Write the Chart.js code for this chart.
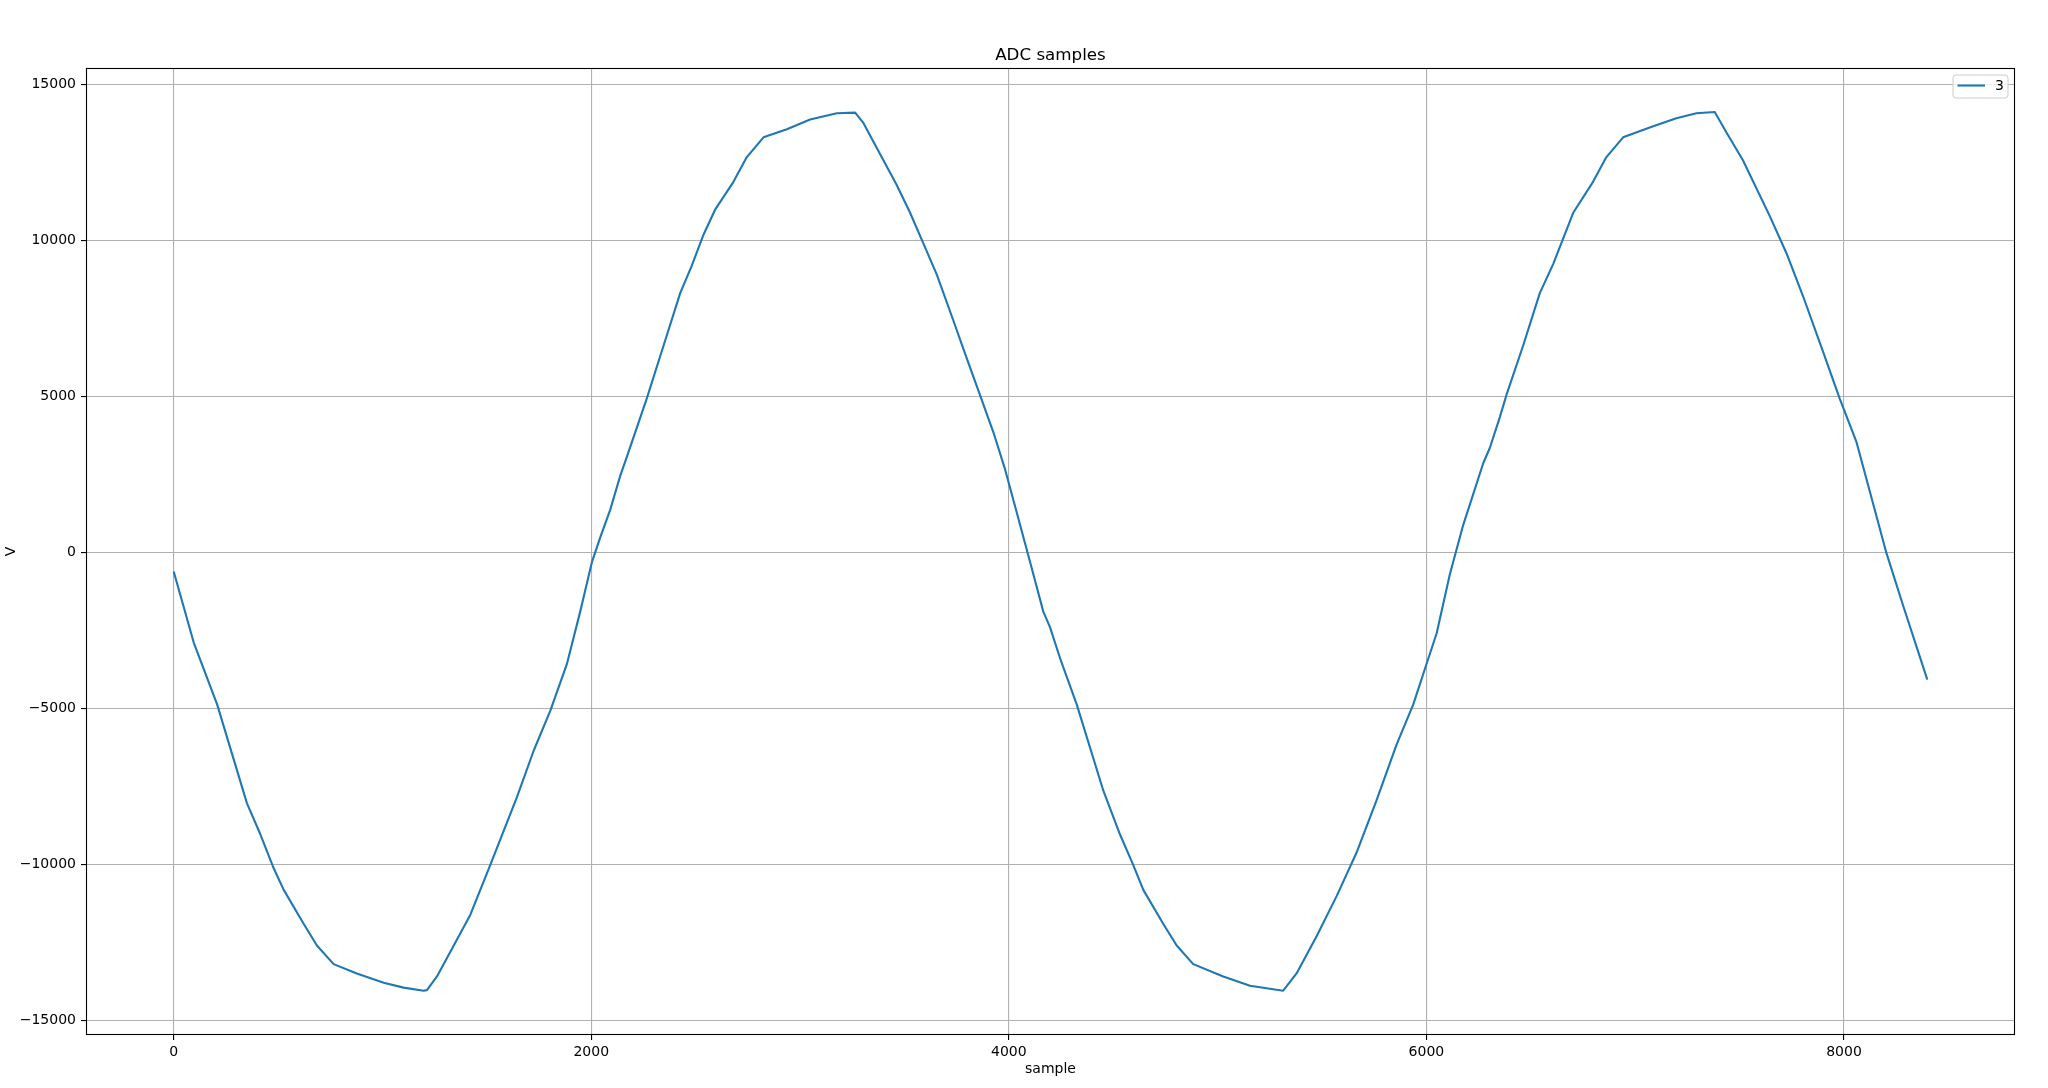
<!DOCTYPE html>
<html><head><meta charset="utf-8">
<script src="https://cdn.jsdelivr.net/npm/chart.js@4.4.1/dist/chart.umd.min.js"></script>
<style>html,body{margin:0;padding:0;background:#fff;}canvas{display:block;}</style>
</head><body>
<canvas id="c" width="2048" height="1088"></canvas>
<script>
const chartTitle = 'ADC samples';
const seriesLabel = '3';
const xAxisLabel = 'sample';
const yAxisLabel = 'V';

const sampleIndex = [0,96,208,351,415,479,527,623,686,766,877,1006,1101,1197,1213,1261,1309,1421,1516,1644,1724,1804,1883,1947,2003,2043,2091,2139,2170,2266,2346,2426,2482,2538,2593,2681,2745,2825,2937,3048,3176,3264,3304,3367,3463,3527,3591,3655,3735,3798,3862,3926,3982,4022,4102,4165,4197,4245,4325,4453,4532,4596,4644,4740,4804,4883,5027,5155,5314,5378,5474,5570,5665,5761,5857,5937,6000,6049,6112,6176,6272,6304,6352,6383,6463,6543,6607,6703,6798,6862,6942,7086,7197,7293,7381,7437,7516,7644,7724,7804,7900,7979,8059,8123,8203,8283,8399];
const sampleValue = [-614,-2893,-4875,-8046,-9037,-10127,-10820,-11910,-12604,-13199,-13496,-13793,-13952,-14051,-14031,-13595,-13000,-11613,-10028,-7848,-6361,-5073,-3587,-1902,-317,476,1367,2457,3052,4935,6619,8304,9195,10186,10979,11871,12664,13298,13555,13872,14071,14090,13753,12961,11772,10880,9889,8898,7412,6223,5034,3845,2656,1665,-317,-1902,-2399,-3389,-4875,-7650,-9037,-10028,-10820,-11910,-12604,-13199,-13595,-13892,-14051,-13496,-12307,-11019,-9631,-7947,-6163,-4875,-3587,-2596,-713,872,2854,3349,4340,5034,6619,8304,9235,10880,11871,12664,13298,13654,13912,14071,14110,13456,12565,10781,9592,8205,6421,4935,3547,1962,-20,-1704,-4082];

const xTicks = [0,2000,4000,6000,8000];
const yTicks = [-15000,-10000,-5000,0,5000,10000,15000];
const xLimits = [-420, 8819];
const yLimits = [-15470, 15520];

const FONT = 'DejaVu Sans';
const lineColor = '#1f77b4';

function fmt(v){ return v < 0 ? '\u2212' + Math.abs(v) : String(v); }

const framePlugin = {
  id: 'frame',
  afterDraw(chart){
    const ctx = chart.ctx, a = chart.chartArea;
    ctx.save();
    ctx.strokeStyle = '#000';
    ctx.lineWidth = 1.1;
    ctx.strokeRect(Math.round(a.left)+0.5, Math.round(a.top)+0.5, Math.round(a.right-a.left)-1, Math.round(a.bottom-a.top)-1);
    // title
    ctx.fillStyle = '#000';
    ctx.font = '16.7px "' + FONT + '"';
    ctx.textAlign = 'center';
    ctx.textBaseline = 'alphabetic';
    ctx.fillText(chartTitle, (a.left + a.right) / 2, a.top - 8);
    // legend
    const bx = a.right - 62, by = a.top + 7, bw = 55, bh = 23, r = 3;
    ctx.beginPath();
    ctx.moveTo(bx+r, by);
    ctx.lineTo(bx+bw-r, by); ctx.arcTo(bx+bw, by, bx+bw, by+r, r);
    ctx.lineTo(bx+bw, by+bh-r); ctx.arcTo(bx+bw, by+bh, bx+bw-r, by+bh, r);
    ctx.lineTo(bx+r, by+bh); ctx.arcTo(bx, by+bh, bx, by+bh-r, r);
    ctx.lineTo(bx, by+r); ctx.arcTo(bx, by, bx+r, by, r);
    ctx.closePath();
    ctx.fillStyle = 'rgba(255,255,255,0.8)';
    ctx.fill();
    ctx.strokeStyle = '#cccccc';
    ctx.lineWidth = 1;
    ctx.stroke();
    const ds = chart.data.datasets[0];
    const ly = by + 10.5;
    ctx.beginPath();
    ctx.moveTo(bx+4.5, ly); ctx.lineTo(bx+32, ly);
    ctx.strokeStyle = ds.borderColor; ctx.lineWidth = 2.1;
    ctx.stroke();
    ctx.fillStyle = '#000';
    ctx.font = '14px "' + FONT + '"';
    ctx.textBaseline = 'middle';
    ctx.textAlign = 'left';
    ctx.fillText(ds.label, bx+42, ly+0.5);
    ctx.restore();
  }
};

new Chart(document.getElementById('c'), {
  type: 'line',
  data: {
    datasets: [{
      label: seriesLabel,
      data: sampleIndex.map((x,i)=>({x:x, y:sampleValue[i]})),
      borderColor: lineColor,
      backgroundColor: lineColor,
      borderWidth: 2.1,
      pointRadius: 0,
      tension: 0,
      borderJoinStyle: 'round',
      fill: false
    }]
  },
  options: {
    responsive: false,
    animation: false,
    devicePixelRatio: 1,
    layout: { padding: { top: 68, right: 33, left: 0, bottom: 0 } },
    plugins: {
      legend: { display: false },
      tooltip: { enabled: false },
      title: { display: false }
    },
    scales: {
      x: {
        type: 'linear', min: xLimits[0], max: xLimits[1],
        afterBuildTicks(s){ s.ticks = xTicks.map(v=>({value:v})); },
        afterFit(s){ s.height = 53; },
        grid: { color: '#b0b0b0', lineWidth: 1.1, tickColor: '#000', tickLength: 5, tickWidth: 1.1 },
        border: { display: false },
        ticks: { color: '#000', font: { family: FONT, size: 14 }, padding: 4, maxRotation: 0, autoSkip: false, callback: v => fmt(v) },
        title: { display: true, text: xAxisLabel, color: '#000', font: { family: FONT, size: 14 }, padding: { top: 0, bottom: 10 } }
      },
      y: {
        type: 'linear', min: yLimits[0], max: yLimits[1],
        afterBuildTicks(s){ s.ticks = yTicks.map(v=>({value:v})); },
        afterFit(s){ s.width = 86; },
        grid: { color: '#b0b0b0', lineWidth: 1.1, tickColor: '#000', tickLength: 5, tickWidth: 1.1 },
        border: { display: false },
        ticks: { color: '#000', font: { family: FONT, size: 14 }, padding: 5, autoSkip: false, callback: v => fmt(v) },
        title: { display: true, text: yAxisLabel, color: '#000', font: { family: FONT, size: 14 }, padding: { top: 3, bottom: 0 } }
      }
    }
  },
  plugins: [framePlugin]
});
</script>
</body></html>
